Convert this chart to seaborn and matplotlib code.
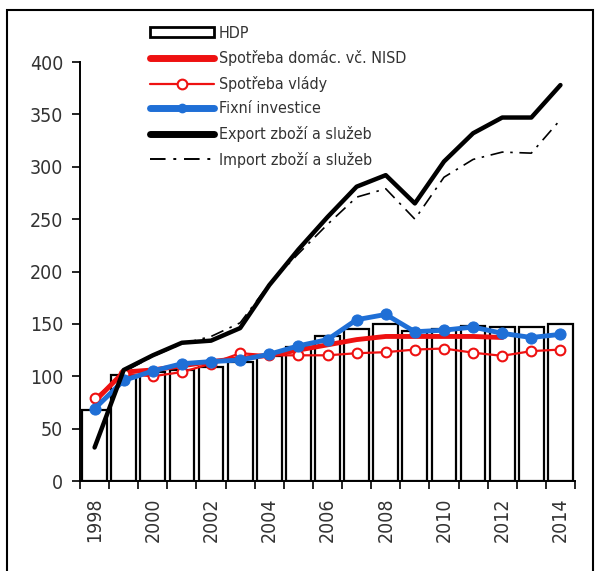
import numpy as np
import pandas as pd
import matplotlib
matplotlib.use('Agg')
import matplotlib.pyplot as plt
import seaborn as sns
from matplotlib.lines import Line2D
from matplotlib.patches import Patch, Rectangle

# data
years = list(range(1998, 2015))
hdp = [68, 101, 104, 106, 109, 114, 119, 128, 138, 145, 150, 143, 145, 148, 147, 147, 150]
spotreba_dom = [76, 104, 106, 110, 114, 117, 120, 125, 130, 135, 138, 138, 138, 138, 137, np.nan, np.nan]
spotreba_vlady = [79, 102, 100, 104, 112, 122, 120, 120, 120, 122, 123, 125.5, 126.5, 122.5, 119.5, 124, 125.5]
fixni_inv = [69, 96, 105, 112, 114, 115.5, 121, 129, 135, 154, 159, 142.5, 144, 147, 141, 137, 140]
export = [32, 106, 120, 132, 134, 146, 187, 221, 252, 281, 292, 265, 305, 332, 347, 347, 378]
importy = [33, 104, 119, 131, 138, 151, 188, 217, 245, 271, 279, 250, 290, 307, 314, 313, 345]

labels = ['HDP', 'Spotřeba domác. vč. NISD', 'Spotřeba vlády', 'Fixní investice',
          'Export zboží a služeb', 'Import zboží a služeb']

df = pd.DataFrame({'rok': years, 'hdp': hdp, 'dom': spotreba_dom, 'vlady': spotreba_vlady,
                   'inv': fixni_inv, 'exp': export, 'imp': importy})

sns.set_style('white')
plt.rcParams['font.family'] = ['DejaVu Sans']
plt.rcParams['font.stretch'] = 'condensed'
txt = '#333333'

fig = plt.figure(figsize=(5.95, 5.71), dpi=100)
ax = fig.add_axes([0.1345, 0.1576, 0.8319, 0.7338])

# bars
sns.barplot(data=df, x='rok', y='hdp', native_scale=True, width=0.85, color='white',
            edgecolor='black', linewidth=1.6, ax=ax, zorder=1)

# lines
sns.lineplot(data=df, x='rok', y='dom', color='#ee1111', lw=3.5, ax=ax, zorder=3)
sns.lineplot(data=df, x='rok', y='vlady', color='#ee1111', lw=1.6, marker='o', ms=7,
             markerfacecolor='white', markeredgecolor='#ee1111', markeredgewidth=1.5, ax=ax, zorder=4)
sns.lineplot(data=df, x='rok', y='inv', color='#1f6fd6', lw=3.5, marker='o', ms=8,
             markeredgecolor='#1f6fd6', ax=ax, zorder=5)
sns.lineplot(data=df, x='rok', y='exp', color='black', lw=3.2, ax=ax, zorder=6)
sns.lineplot(data=df, x='rok', y='imp', color='black', lw=1.2, ls=(0, (8, 4, 1.5, 4)), ax=ax, zorder=7)

ax.set_xlim(1997.5, 2014.5)
ax.set_ylim(0, 400)
ax.set_xlabel('')
ax.set_ylabel('')
ax.set_yticks(range(0, 401, 50))
ax.set_xticks(np.arange(1997.5, 2015, 1))
ax.set_xticklabels([])
ax.set_xticks(range(1998, 2015, 2), minor=True)
ax.set_xticklabels([str(y) for y in range(1998, 2015, 2)], minor=True, rotation=90)
ax.tick_params(axis='x', which='major', length=6, width=1.2, color='black', direction='out', bottom=True)
ax.tick_params(axis='x', which='minor', length=0, pad=12, labelsize=14, labelcolor=txt)
ax.tick_params(axis='y', length=6, width=1.2, color='black', direction='out', left=True,
               labelsize=14, labelcolor=txt, pad=6)
sns.despine(ax=ax)
for s in ['left', 'bottom']:
    ax.spines[s].set_color('black')
    ax.spines[s].set_linewidth(1.4)
ax.grid(False)

# legend
handles = [
    Patch(facecolor='white', edgecolor='black', linewidth=2),
    Line2D([], [], color='#ee1111', lw=5),
    Line2D([], [], color='#ee1111', lw=1.6, marker='o', ms=7, markerfacecolor='white',
           markeredgewidth=1.5),
    Line2D([], [], color='#1f6fd6', lw=5, marker='o', ms=6),
    Line2D([], [], color='black', lw=5),
    Line2D([], [], color='black', lw=1.4, ls=(0, (8, 4, 1.5, 4))),
]
fig.legend(handles, labels, loc='upper left', bbox_to_anchor=(0.252, 0.955), frameon=False,
           fontsize=11.5, handlelength=4.0, handleheight=0.6, handletextpad=0.3,
           labelspacing=0.6, borderpad=0, borderaxespad=0, labelcolor=txt)

# frame around the whole picture
fig.add_artist(Rectangle((7 / 595, -0.01), 586 / 595, 1 - 10 / 571 + 0.01,
                         transform=fig.transFigure, fill=False, edgecolor='black', lw=1.5))

fig.savefig('out.png', dpi=100)
